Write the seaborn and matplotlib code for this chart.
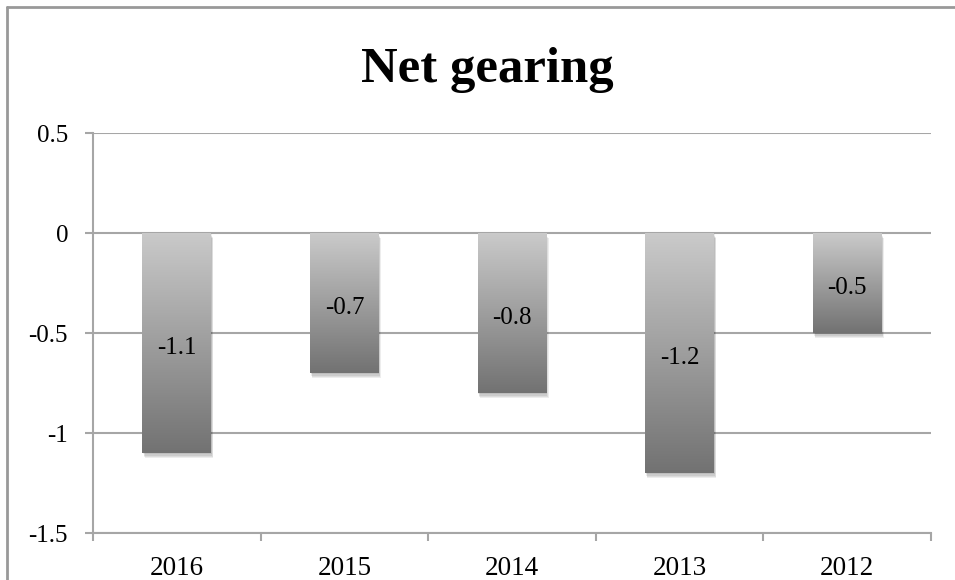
import numpy as np
import pandas as pd
import matplotlib
matplotlib.use("Agg")
import matplotlib.pyplot as plt
import matplotlib.patheffects as pe
from matplotlib.lines import Line2D
import seaborn as sns

years = ["2016", "2015", "2014", "2013", "2012"]
net_gearing = [-1.1, -0.7, -0.8, -1.2, -0.5]
label_texts = ["-1.1", "-0.7", "-0.8", "-1.2", "-0.5"]
y_ticks = [0.5, 0, -0.5, -1, -1.5]
y_tick_labels = ["0.5", "0", "-0.5", "-1", "-1.5"]

df = pd.DataFrame({"year": years, "value": net_gearing})

sns.set_theme(style="white")
plt.rcParams["font.family"] = ["Liberation Serif", "DejaVu Serif"]

GRID = "#a6a6a6"

fig = plt.figure(figsize=(9.55, 5.8), dpi=100)
ax = fig.add_axes([93 / 955, 1 - 533 / 580, (931 - 93) / 955, 400 / 580])

sns.barplot(data=df, x="year", y="value", order=years, color="#999999",
            width=0.41, ax=ax, zorder=2)

ax.set_xlim(-0.5, len(years) - 0.5)
ax.set_ylim(-1.5, 0.5)
ax.set_yticks(y_ticks)
ax.set_yticklabels(y_tick_labels)
ax.set_xlabel("")
ax.set_ylabel("")

# vertical grey gradient on each bar, light at the top and dark at the bottom
grad = np.linspace(0, 1, 256).reshape(-1, 1)
cmap = matplotlib.colors.LinearSegmentedColormap.from_list(
    "bar_grad", ["#cacaca", "#727272"])
soft_shadow = [pe.SimplePatchShadow(offset=(0.4 * k, -0.9 * k), alpha=0.07,
                                    shadow_rgbFace="#000000")
               for k in range(1, 5)]
for patch in ax.patches:
    x0 = patch.get_x()
    w = patch.get_width()
    y0 = patch.get_y()
    h = patch.get_height()
    top, bottom = max(y0, y0 + h), min(y0, y0 + h)
    patch.set_edgecolor("none")
    patch.set_path_effects(soft_shadow + [pe.Normal()])
    im = ax.imshow(grad, cmap=cmap, aspect="auto", origin="upper",
                   extent=[x0, x0 + w, bottom, top], zorder=3,
                   interpolation="bilinear")
    im.set_clip_path(patch)

# value labels in the middle of each bar
for i, (v, t) in enumerate(zip(net_gearing, label_texts)):
    ax.annotate(t, xy=(i, v / 2), xytext=(0, -3.5), textcoords="offset points",
                ha="center", va="center", fontsize=18, color="black",
                zorder=4)

# grid and axes lines
ax.yaxis.grid(True, color=GRID, linewidth=1.5, zorder=0)
ax.set_axisbelow(True)
for side in ["top", "right"]:
    ax.spines[side].set_visible(False)
for side in ["left", "bottom"]:
    ax.spines[side].set_color(GRID)
    ax.spines[side].set_linewidth(1.5)

ax.tick_params(axis="y", which="major", length=6, width=1.5, color=GRID,
               pad=12, labelsize=18, labelcolor="black", left=True)
ax.tick_params(axis="x", which="major", length=0, pad=16.5, labelsize=19.5,
               labelcolor="black")
ax.set_xticks(np.arange(-0.5, len(years)), minor=True)
ax.tick_params(axis="x", which="minor", length=6, width=1.5, color=GRID,
               bottom=True)

fig.text(487 / 955, 1 - 82 / 580, "Net gearing", ha="center", va="baseline",
         fontsize=36.5, fontweight="bold", color="black")

# chart frame
fig.add_artist(Line2D([7 / 955, 7 / 955], [0, 1 - 7 / 580],
                      transform=fig.transFigure, color="#999999", linewidth=2))
fig.add_artist(Line2D([7 / 955, 1], [1 - 7 / 580, 1 - 7 / 580],
                      transform=fig.transFigure, color="#999999", linewidth=2))

fig.savefig("out.png", dpi=100)
